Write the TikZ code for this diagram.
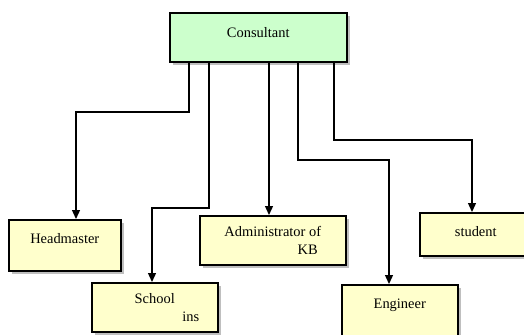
\documentclass[tikz,border=0pt]{standalone}
\usepackage{fontspec}
\setmainfont{Liberation Serif}
\usetikzlibrary{shadows,arrows.meta}
\begin{document}
\begin{tikzpicture}[x=1bp,y=-1bp,
  box/.style={draw=black, line width=1.5bp, anchor=north west, inner sep=0pt,
    font=\fontsize{14.5}{18}\selectfont, align=center,
    drop shadow={shadow xshift=3.5bp, shadow yshift=-3.5bp, fill=black!25, opacity=1}},
  green/.style={box, fill=greenfill},
  yellow/.style={box, fill=yellowfill},
  conn/.style={line width=1.3bp, -{Triangle[width=8bp,length=9bp]}}]
\definecolor{greenfill}{HTML}{CCFFCC}
\definecolor{yellowfill}{HTML}{FFFFCC}
\useasboundingbox (0,0) rectangle (524,334);
\fill[white] (0,0) rectangle (524,334);

\node[green, minimum width=177bp, minimum height=49bp] (cons) at (169,12) {\raisebox{9bp}{Consultant}};
\node[yellow, minimum width=112bp, minimum height=51bp] (head) at (8,219) {\raisebox{14bp}{Headmaster}};
\node[yellow, minimum width=126bp, minimum height=49bp] (school) at (91,282) {School\\\hspace*{72bp}ins};
\node[yellow, minimum width=146bp, minimum height=49bp] (admin) at (199,215) {Administrator of\\\hspace*{70bp}KB};
\node[yellow, minimum width=116bp, minimum height=56bp] (eng) at (341,284) {\raisebox{18bp}{Engineer}};
\node[yellow, minimum width=112bp, minimum height=43bp] (stud) at (419,212) {\raisebox{5bp}{student}};

% connector columns and bends
\coordinate (x1) at (189,0);
\coordinate (x2) at (209,0);
\coordinate (x3) at (269,0);
\coordinate (x4) at (298,0);
\coordinate (x5) at (334,0);
\coordinate (b1) at (76,112);
\coordinate (b2) at (152,208);
\coordinate (b4) at (389,160);
\coordinate (b5) at (472,140);

\draw[conn] (cons.south -| x1) |- (b1) -- (head.north -| b1);
\draw[conn] (cons.south -| x2) |- (b2) -- (school.north -| b2);
\draw[conn] (cons.south -| x3) -- (admin.north -| x3);
\draw[conn] (cons.south -| x4) |- (b4) -- (eng.north -| b4);
\draw[conn] (cons.south -| x5) |- (b5) -- (stud.north -| b5);
\end{tikzpicture}
\end{document}
